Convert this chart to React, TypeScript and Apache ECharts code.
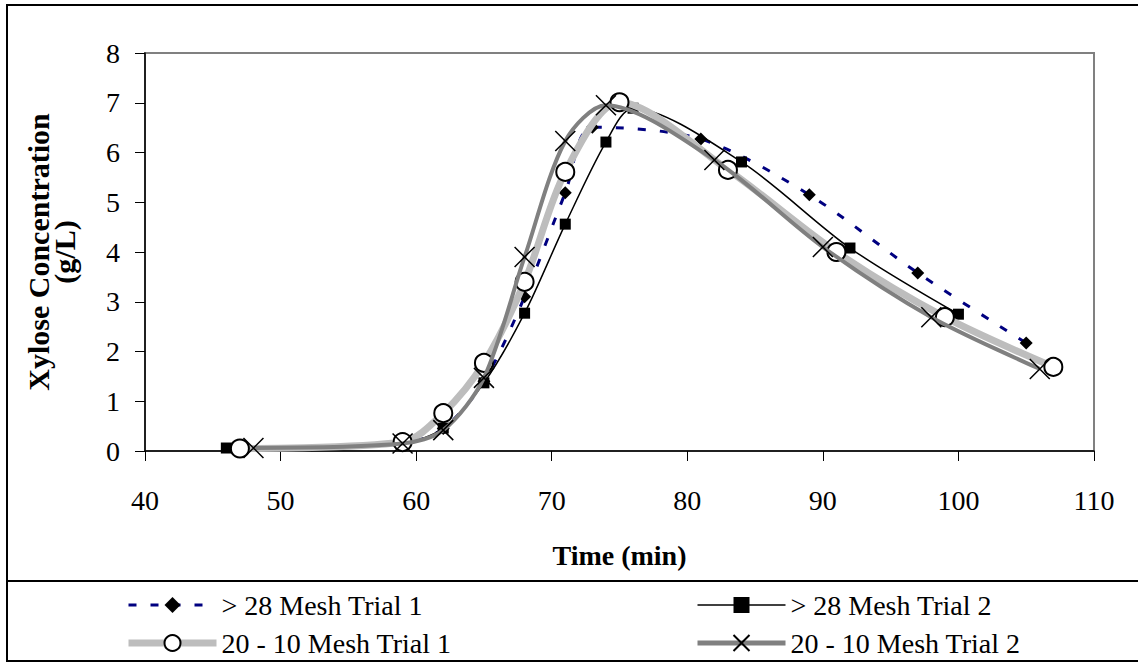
import React, { useEffect, useRef } from "react";
import * as echarts from "echarts";

const xTicksMin = 40;
const xTicksMax = 110;
const yTicksMin = 0;
const yTicksMax = 8;

const s1Name = "> 28 Mesh Trial 1";
const s1X = [47, 59, 62, 65, 68, 71, 73, 81, 89, 97, 105];
const s1Y = [0.05, 0.15, 0.45, 1.4, 3.1, 5.19, 6.51, 6.27, 5.15, 3.58, 2.17];

const s2Name = "> 28 Mesh Trial 2";
const s2X = [46, 59, 62, 65, 68, 71, 74, 76, 84, 92, 100];
const s2Y = [0.06, 0.16, 0.46, 1.37, 2.77, 4.56, 6.21, 6.89, 5.81, 4.08, 2.75];

const s3Name = "20 - 10 Mesh Trial 1";
const s3X = [47, 59, 62, 65, 68, 71, 75, 83, 91, 99, 107];
const s3Y = [0.05, 0.18, 0.76, 1.77, 3.4, 5.61, 7.01, 5.65, 4.0, 2.69, 1.69];

const s4Name = "20 - 10 Mesh Trial 2";
const s4X = [48, 59, 62, 65, 68, 71, 74, 82, 90, 98, 106];
const s4Y = [0.06, 0.15, 0.42, 1.47, 3.9, 6.23, 6.95, 5.85, 4.1, 2.69, 1.65];

const zip = (xs: number[], ys: number[]) => xs.map((x, i) => [x, ys[i]]);

const FONT = "'Liberation Serif', 'Times New Roman', serif";

const NAVY = "#000080";
const LIGHT = "#bdbdbd";
const DARK = "#808080";

export default function App() {
  const ref = useRef<HTMLDivElement>(null);
  useEffect(() => {
    if (!ref.current) return;
    const chart = echarts.init(ref.current, undefined, { renderer: "svg" });
    const legendBase = {
      top: 586,
      orient: "vertical",
      itemGap: 10,
      itemWidth: 88,
      itemHeight: 20,
      textStyle: { fontFamily: FONT, fontSize: 28, color: "#000" },
    };
    const option: any = {
      animation: false,
      backgroundColor: "#ffffff",
      textStyle: { fontFamily: FONT, color: "#000" },
      grid: {
        left: 145,
        top: 53,
        right: 44,
        bottom: 214,
        show: true,
        borderColor: "#808080",
        borderWidth: 2,
        backgroundColor: "#fff",
      },
      xAxis: {
        type: "value",
        min: xTicksMin,
        max: xTicksMax,
        interval: 10,
        name: "Time (min)",
        nameLocation: "middle",
        nameGap: 90,
        nameTextStyle: { fontFamily: FONT, fontWeight: "bold", fontSize: 28, color: "#000" },
        axisLine: { show: true, onZero: false, lineStyle: { color: "#000", width: 1.5 } },
        axisTick: { show: true, inside: false, length: 10, lineStyle: { color: "#000", width: 1 } },
        axisLabel: { fontFamily: FONT, fontSize: 28, color: "#000", margin: 35 },
        splitLine: { show: false },
      },
      yAxis: {
        type: "value",
        min: yTicksMin,
        max: yTicksMax,
        interval: 1,
        axisLine: { show: true, lineStyle: { color: "#000", width: 1.5 } },
        axisTick: { show: true, inside: false, length: 10, lineStyle: { color: "#000", width: 1 } },
        axisLabel: { fontFamily: FONT, fontSize: 28, color: "#000", margin: 25 },
        splitLine: { show: false },
      },
      legend: [
        {
          ...legendBase,
          left: 120,
          data: [
            { name: s1Name, lineStyle: { color: NAVY, width: 3, type: [8, 14] } },
            { name: s3Name, lineStyle: { color: LIGHT, width: 7 } },
          ],
        },
        {
          ...legendBase,
          left: 690,
          data: [
            { name: s2Name, lineStyle: { color: "#000", width: 1.5 } },
            { name: s4Name, lineStyle: { color: DARK, width: 5 } },
          ],
        },
      ],
      graphic: [
        {
          type: "rect",
          z: -10,
          shape: { x: 7, y: 5, width: 1140, height: 656 },
          style: { fill: "none", stroke: "#000", lineWidth: 2 },
        },
        {
          type: "line",
          shape: { x1: 7, y1: 581, x2: 1140, y2: 581 },
          style: { stroke: "#000", lineWidth: 2 },
        },
        {
          type: "text",
          x: 51,
          y: 252,
          rotation: Math.PI / 2,
          style: {
            text: "Xylose Concentration\n(g/L)",
            font: "bold 30px " + FONT,
            fill: "#000",
            textAlign: "center",
            textVerticalAlign: "middle",
            lineHeight: 26,
          },
        },
      ],
      series: [
        {
          name: s1Name,
          type: "line",
          data: zip(s1X, s1Y),
          smooth: 0.3,
          symbol: "diamond",
          symbolSize: 13,
          itemStyle: { color: "#000" },
          lineStyle: { color: NAVY, width: 3, type: [8, 14] },
          z: 2,
        },
        {
          name: s2Name,
          type: "line",
          data: zip(s2X, s2Y),
          smooth: 0.3,
          symbol: "rect",
          symbolSize: 11,
          itemStyle: { color: "#000" },
          lineStyle: { color: "#000", width: 1.5 },
          z: 3,
        },
        {
          name: s3Name,
          type: "line",
          data: zip(s3X, s3Y),
          smooth: 0.3,
          symbol: "emptyCircle",
          symbolSize: 18,
          itemStyle: { color: "#000", borderWidth: 1.5 },
          lineStyle: { color: LIGHT, width: 7 },
          z: 4,
        },
        {
          name: s4Name,
          type: "line",
          data: zip(s4X, s4Y),
          smooth: 0.3,
          symbol: "path://M0,0L20,20M20,0L0,20",
          symbolSize: 20,
          itemStyle: { color: "rgba(0,0,0,0)", borderColor: "#000", borderWidth: 1.5 },
          lineStyle: { color: DARK, width: 4 },
          z: 5,
        },
      ],
    };
    chart.setOption(option);
    return () => chart.dispose();
  }, []);
  return (
    <div
      ref={ref}
      style={{ position: "fixed", left: 0, top: 0, width: 1138, height: 665 }}
    />
  );
}
